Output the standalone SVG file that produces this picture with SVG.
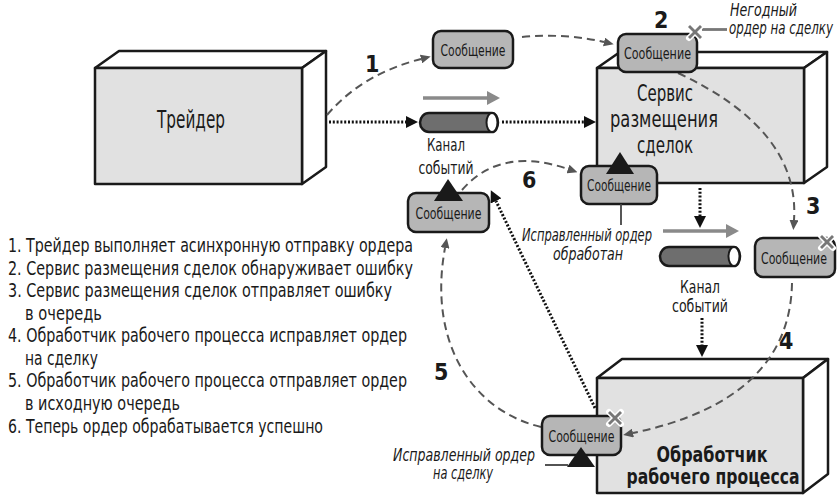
<svg xmlns="http://www.w3.org/2000/svg" width="837" height="496" viewBox="0 0 837 496">
<defs>
<style>
.front{fill:#e1e1e1;stroke:#1a1a1a;stroke-width:2.5;stroke-linejoin:round}
.face{fill:#ffffff;stroke:#1a1a1a;stroke-width:2.5;stroke-linejoin:round}
.msg{fill:#b6b6b6;stroke:#1a1a1a;stroke-width:2.5}
.t{font-family:"Liberation Sans Narrow","DejaVu Sans Condensed","Liberation Sans",sans-serif;fill:#1a1a1a}
.m{font-size:16.5px;text-anchor:middle}
.it{font-style:italic;font-size:17px}
.num{font-weight:bold;font-size:23px}
.lst{font-size:19.5px}
.dash{fill:none;stroke:#555;stroke-width:2;stroke-dasharray:8 5;marker-end:url(#ga)}
.dot{fill:none;stroke:#111;stroke-width:3;stroke-dasharray:2 1.8;marker-end:url(#ba)}
.tri{fill:#1a1a1a}
.pipe{fill:#6e6e6e;stroke:#1a1a1a;stroke-width:2.5}
.cap{fill:#ffffff;stroke:#1a1a1a;stroke-width:2}
.flow{stroke:#8a8a8a;stroke-width:3.5;fill:none}
.flowh{fill:#8a8a8a}
.xw{stroke:#fff;stroke-width:6;stroke-linecap:round}
.xg{stroke:#777;stroke-width:2.8}
</style>
<marker id="ga" viewBox="0 0 10 9" refX="0" refY="4.5" markerWidth="10" markerHeight="9" markerUnits="userSpaceOnUse" orient="auto">
<path d="M0,0 L10,4.5 L0,9 Z" fill="#555"/>
</marker>
<marker id="ba" viewBox="0 0 12 12" refX="0" refY="6" markerWidth="12" markerHeight="12" markerUnits="userSpaceOnUse" orient="auto">
<path d="M0,0 L12,6 L0,12 Z" fill="#111"/>
</marker>
</defs>
<rect width="837" height="496" fill="#ffffff"/>

<g id="trader">
<polygon class="face" points="95,68 119,51 326,51 302,68"/>
<polygon class="face" points="302,68 326,51 326,167 302,184"/>
<rect class="front" x="95" y="68" width="207" height="116"/>
<text class="t" x="191" y="128" font-size="24" text-anchor="middle" textLength="68" lengthAdjust="spacingAndGlyphs">Трейдер</text>
</g>

<g id="service">
<polygon class="face" points="597,68 620,52 827,52 804,68"/>
<polygon class="face" points="804,68 827,52 827,167 804,183"/>
<rect class="front" x="597" y="68" width="207" height="115"/>
<text class="t" font-size="23.5" text-anchor="middle"><tspan x="665" y="101" textLength="56" lengthAdjust="spacingAndGlyphs">Сервис</tspan><tspan x="664" y="127" textLength="108" lengthAdjust="spacingAndGlyphs">размещения</tspan><tspan x="665" y="153" textLength="56" lengthAdjust="spacingAndGlyphs">сделок</tspan></text>
</g>

<g id="worker">
<polygon class="face" points="597,378 622,359 828,359 803,378"/>
<polygon class="face" points="803,378 828,359 828,474 803,493"/>
<rect class="front" x="597" y="378" width="206" height="115"/>
<text class="t" font-size="22" font-weight="bold" text-anchor="middle"><tspan x="712" y="462" textLength="111" lengthAdjust="spacingAndGlyphs">Обработчик</tspan><tspan x="713" y="484" textLength="173" lengthAdjust="spacingAndGlyphs">рабочего процесса</tspan></text>
</g>

<g id="channel1">
<line class="flow" x1="423" y1="98" x2="488" y2="98"/>
<polygon class="flowh" points="487,91 500,98 487,105"/>
<path class="pipe" d="M429,113 H492 A6,9.5 0 0 1 492,132 H429 A9,9.5 0 0 1 429,113 Z"/>
<ellipse class="cap" cx="492" cy="122.5" rx="5.5" ry="9.5"/>
<text class="t" font-size="18.5" text-anchor="middle"><tspan x="446" y="151" textLength="38" lengthAdjust="spacingAndGlyphs">Канал</tspan><tspan x="446" y="174" textLength="55" lengthAdjust="spacingAndGlyphs">событий</tspan></text>
</g>

<g id="channel2">
<line class="flow" x1="663" y1="231" x2="727" y2="231"/>
<polygon class="flowh" points="726,224 739,231 726,238"/>
<path class="pipe" d="M669,247 H734 A6,9.5 0 0 1 734,266 H669 A9,9.5 0 0 1 669,247 Z"/>
<ellipse class="cap" cx="734" cy="256.5" rx="5.5" ry="9.5"/>
<text class="t" font-size="18.5" text-anchor="middle"><tspan x="700" y="293" textLength="40" lengthAdjust="spacingAndGlyphs">Канал</tspan><tspan x="700" y="312" textLength="56" lengthAdjust="spacingAndGlyphs">событий</tspan></text>
</g>

<g id="connectors">
<path class="dash" d="M327,115 Q362,74 421,59"/>
<path class="dash" d="M522,37 Q566,33 604,42"/>
<path class="dash" d="M678,73 Q800,130 794,220"/>
<path class="dash" d="M792,283 Q790,400 633,433"/>
<path class="dash" d="M541,427 C470,410 428,340 445,248"/>
<path class="dash" d="M462,190 Q500,146 568,169"/>
<path class="dot" d="M329,122 H406"/>
<path class="dot" d="M502,122 H584"/>
<path class="dot" d="M700,188 V216"/>
<path class="dot" d="M702,318 V345"/>
<path class="dot" d="M595,408 L496,201"/>
</g>

<g id="msg1">
<rect class="msg" x="433" y="31" width="80" height="37" rx="8"/>
<text class="t m" x="473" y="55.5" textLength="65" lengthAdjust="spacingAndGlyphs">Сообщение</text>
</g>

<g id="msg2">
<rect class="msg" x="618" y="34" width="79" height="38" rx="8"/>
<text class="t m" x="657.5" y="59" textLength="67" lengthAdjust="spacingAndGlyphs">Сообщение</text>
<line class="xg" x1="702" y1="29.5" x2="727" y2="29.5" stroke-width="2"/>
<g>
<line class="xw" x1="689" y1="26" x2="701" y2="38"/><line class="xw" x1="701" y1="26" x2="689" y2="38"/>
<line class="xg" x1="689" y1="26" x2="701" y2="38"/><line class="xg" x1="701" y1="26" x2="689" y2="38"/>
</g>
</g>

<g id="msg3">
<rect class="msg" x="408" y="193" width="81" height="39" rx="8"/>
<text class="t m" x="448.5" y="218.5" textLength="66" lengthAdjust="spacingAndGlyphs">Сообщение</text>
<polygon class="tri" points="448,179 434,201 463,201"/>
</g>

<g id="msg4">
<rect class="msg" x="581" y="166" width="76" height="38" rx="8"/>
<text class="t m" x="619" y="191" textLength="64" lengthAdjust="spacingAndGlyphs">Сообщение</text>
<polygon class="tri" points="620,152 606,174 634,174"/>
<line x1="621" y1="204" x2="621" y2="225" stroke="#444" stroke-width="1.8"/>
</g>

<g id="msg5">
<rect class="msg" x="755" y="238" width="80" height="39" rx="8"/>
<text class="t m" x="794" y="263.5" textLength="66" lengthAdjust="spacingAndGlyphs">Сообщение</text>
<line class="xw" x1="821" y1="236" x2="833" y2="248"/><line class="xw" x1="833" y1="236" x2="821" y2="248"/>
<line class="xg" x1="821" y1="236" x2="833" y2="248"/><line class="xg" x1="833" y1="236" x2="821" y2="248"/>
</g>

<g id="msg6">
<rect class="msg" x="542" y="416" width="79" height="39" rx="8"/>
<text class="t m" x="581.5" y="441.5" textLength="66" lengthAdjust="spacingAndGlyphs">Сообщение</text>
<polygon class="tri" points="581,447 567,467 595,467"/>
<line x1="545" y1="465" x2="568" y2="465" stroke="#1a1a1a" stroke-width="1.5"/>
<line class="xw" x1="609" y1="412" x2="621" y2="424"/><line class="xw" x1="621" y1="412" x2="609" y2="424"/>
<line class="xg" x1="609" y1="412" x2="621" y2="424"/><line class="xg" x1="621" y1="412" x2="609" y2="424"/>
</g>

<g id="labels">
<text class="t it" x="730" y="16" textLength="67" lengthAdjust="spacingAndGlyphs">Негодный</text>
<text class="t it" x="729" y="34" textLength="104" lengthAdjust="spacingAndGlyphs">ордер на сделку</text>
<text class="t it" x="522" y="241" textLength="130" lengthAdjust="spacingAndGlyphs">Исправленный ордер</text>
<text class="t it" x="553" y="260" textLength="70" lengthAdjust="spacingAndGlyphs">обработан</text>
<text class="t it" x="393" y="461" textLength="142" lengthAdjust="spacingAndGlyphs">Исправленный ордер</text>
<text class="t it" x="433" y="479" textLength="60" lengthAdjust="spacingAndGlyphs">на сделку</text>
<text class="t num" x="365" y="72">1</text>
<text class="t num" x="654" y="28">2</text>
<text class="t num" x="806" y="214">3</text>
<text class="t num" x="779" y="349">4</text>
<text class="t num" x="434" y="380">5</text>
<text class="t num" x="522" y="188">6</text>
</g>

<g id="legend" class="t lst">
<text x="8" y="252" textLength="405" lengthAdjust="spacingAndGlyphs">1. Трейдер выполняет асинхронную отправку ордера</text>
<text x="8" y="274.6" textLength="405" lengthAdjust="spacingAndGlyphs">2. Сервис размещения сделок обнаруживает ошибку</text>
<text x="8" y="297" textLength="384" lengthAdjust="spacingAndGlyphs">3. Сервис размещения сделок отправляет ошибку</text>
<text x="25" y="319.5" textLength="77" lengthAdjust="spacingAndGlyphs">в очередь</text>
<text x="8" y="342" textLength="399" lengthAdjust="spacingAndGlyphs">4. Обработчик рабочего процесса исправляет ордер</text>
<text x="25" y="364.7" textLength="73" lengthAdjust="spacingAndGlyphs">на сделку</text>
<text x="8" y="387.3" textLength="399" lengthAdjust="spacingAndGlyphs">5. Обработчик рабочего процесса отправляет ордер</text>
<text x="25" y="410" textLength="155" lengthAdjust="spacingAndGlyphs">в исходную очередь</text>
<text x="8" y="432.5" textLength="315" lengthAdjust="spacingAndGlyphs">6. Теперь ордер обрабатывается успешно</text>
</g>
</svg>
